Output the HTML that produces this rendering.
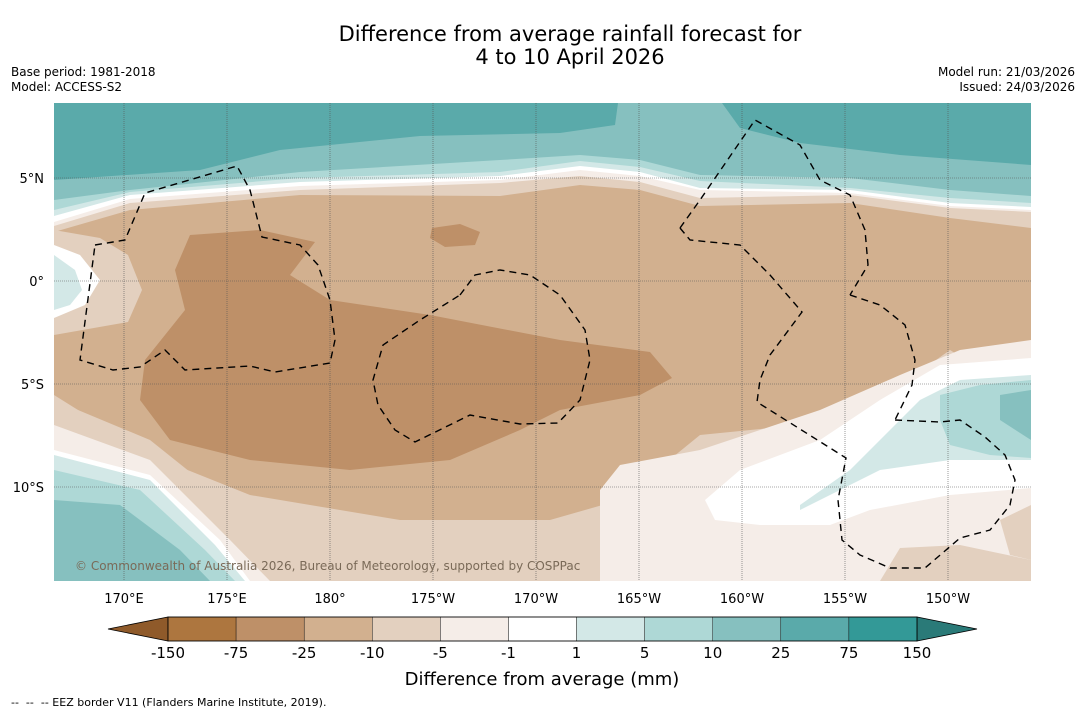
<!DOCTYPE html>
<html><head><meta charset="utf-8"><style>
body{margin:0;background:#fff;font-family:"DejaVu Sans","Liberation Sans",sans-serif;}
svg{display:block}
</style></head><body>
<svg id="chart" width="1085" height="713" viewBox="0 0 1085 713">
<rect width="1085" height="713" fill="#fff"/>
<text x="570" y="41" font-size="21" text-anchor="middle">Difference from average rainfall forecast for</text>
<text x="570" y="64" font-size="21" text-anchor="middle">4 to 10 April 2026</text>
<text x="11" y="76" font-size="12">Base period: 1981-2018</text>
<text x="11" y="91" font-size="12">Model: ACCESS-S2</text>
<text x="1075" y="76" font-size="12" text-anchor="end">Model run: 21/03/2026</text>
<text x="1075" y="91" font-size="12" text-anchor="end">Issued: 24/03/2026</text>
<defs><clipPath id="mc"><rect x="54" y="103" width="977" height="478"/></clipPath></defs>
<g id="map" clip-path="url(#mc)"></g>
<g id="grid"></g>
<g id="eez" clip-path="url(#mc)"></g>
<text x="75" y="570" font-size="12" fill="#7a6a58">© Commonwealth of Australia 2026, Bureau of Meteorology, supported by COSPPac</text>
<g id="axes"></g>
<g id="cbar"></g>
<text x="542" y="685" font-size="18" text-anchor="middle">Difference from average (mm)</text>
<text x="11" y="706" font-size="11" xml:space="preserve" style="white-space:pre">--  --  -- EEZ border V11 (Flanders Marine Institute, 2019).</text>
</svg>
<script>
// axis data
const lonTicks=[170,175,180,185,190,195,200,205,210];
const lonLabels=["170°E","175°E","180°","175°W","170°W","165°W","160°W","155°W","150°W"];
const latTicks=[5,0,-5,-10];
const latLabels=["5°N","0°","5°S","10°S"];
const cbarBounds=["-150","-75","-25","-10","-5","-1","1","5","10","25","75","150"];
const cbarColors=["#ad763f","#be9068","#d2b08f","#e3d0bf","#f5ede8","#ffffff","#d3e8e7","#aed8d6","#86c0bf","#5aaaaa","#339997"];
const extLow="#8f5a2a", extHigh="#2a7a78";
const PX=(x,y)=>[170+(x-124)/20.6,(281-y)/20.6];
function poly(ci,pts){return [ci,pts.map(p=>PX(p[0],p[1]))];}
function band(ci,b){return poly(ci,[[54,103],[1031,103]].concat(b.slice().reverse()));}
const regions=[
 poly(2,[[54,103],[1031,103],[1031,400],[950,350],[880,400],[800,425],[700,435],[620,500],[550,520],[400,520],[250,495],[150,455],[54,395]]),
 band(3,[[54,232],[130,210],[300,195],[500,196],[580,185],[640,190],[700,206],[850,203],[950,218],[1031,228]]),
 poly(3,[[54,230],[100,238],[128,255],[142,290],[128,322],[54,335]]),
 band(4,[[54,226],[130,203],[300,190],[500,183],[580,176],[640,182],[700,198],[850,195],[950,208],[1031,212]]),
 band(5,[[54,222],[130,199],[300,186],[500,180],[580,170],[640,176],[700,190],[850,193],[950,206],[1031,210]]),
 band(6,[[54,216],[130,195],[300,182],[500,176],[580,166],[640,172],[700,188],[850,190],[950,203],[1031,207]]),
 band(7,[[54,210],[130,192],[300,178],[500,172],[580,161],[640,167],[700,181],[850,188],[950,198],[1031,203]]),
 band(8,[[54,200],[130,190],[300,172],[500,160],[580,155],[640,160],[700,175],[850,178],[950,190],[1031,196]]),
 poly(9,[[54,103],[618,103],[615,125],[560,133],[420,136],[280,150],[200,170],[54,180]]),
 poly(9,[[722,103],[1031,103],[1031,165],[900,155],[800,143],[740,128]]),
 poly(5,[[54,245],[80,255],[100,280],[85,305],[54,318]]),
 poly(6,[[54,255],[75,270],[82,290],[70,305],[54,310]]),
 poly(1,[[190,235],[260,230],[315,242],[290,275],[330,300],[430,315],[560,340],[650,352],[672,378],[640,395],[560,410],[520,430],[450,460],[350,470],[250,460],[170,440],[140,400],[145,360],[185,310],[175,270]]),
 poly(1,[[432,228],[460,224],[480,232],[475,245],[445,247],[430,238]]),
 poly(3,[[54,400],[150,440],[250,520],[310,581],[54,581]]),
 poly(4,[[54,425],[150,460],[230,540],[270,581],[54,581]]),
 poly(5,[[54,450],[150,475],[220,540],[250,581],[54,581]]),
 poly(6,[[54,455],[150,480],[215,545],[245,581],[54,581]]),
 poly(7,[[54,470],[140,490],[205,550],[235,581],[54,581]]),
 poly(8,[[54,500],[120,505],[180,550],[210,581],[54,581]]),
 poly(4,[[600,581],[600,490],[620,465],[700,450],[820,410],[900,375],[960,350],[1031,340],[1031,581]]),
 poly(3,[[1000,520],[1031,505],[1031,560],[1010,555]]),
 poly(3,[[880,581],[900,548],[960,545],[1031,560],[1031,581]]),
 poly(5,[[705,500],[740,470],[820,440],[880,400],[940,365],[1031,358],[1031,488],[950,495],[870,510],[830,525],[760,525],[715,520]]),
 poly(6,[[800,505],[850,470],[890,430],[920,400],[960,380],[1031,375],[1031,460],[950,460],[880,470],[840,490],[800,510]]),
 poly(7,[[940,395],[980,385],[1031,380],[1031,458],[990,455],[950,445],[940,420]]),
 poly(8,[[1000,395],[1031,390],[1031,440],[1000,420]])
];
const eezLines=[
 [[95,245],[125,240],[145,193],[237,166],[250,190],[262,237],[300,245],[318,265],[330,300],[335,340],[330,363],[275,372],[250,366],[185,370],[165,350],[140,367],[113,370],[80,360],[95,245]],
 [[460,295],[475,275],[500,270],[530,275],[560,295],[585,330],[590,360],[580,400],[558,423],[520,424],[470,415],[415,442],[395,430],[378,405],[373,380],[383,345],[420,320],[460,295]],
 [[680,228],[700,200],[755,120],[800,145],[820,180],[850,195],[865,230],[868,265],[850,295]],
 [[850,295],[880,305],[905,325],[915,360],[912,385],[895,420]],
 [[680,228],[690,240],[740,245],[770,275],[802,312],[770,355],[760,380],[757,402],[846,458],[838,500],[842,540],[860,555],[890,568],[925,568],[960,538],[990,530],[1010,505],[1015,480],[1005,455],[985,437],[960,420],[940,422],[895,420]]
];
const x=lon=>124+(lon-170)*20.6, y=lat=>281-lat*20.6;
const NS="http://www.w3.org/2000/svg";
function mk(t,a,parent){const e=document.createElementNS(NS,t);for(const k in a)e.setAttribute(k,a[k]);parent.appendChild(e);return e;}
const map=document.getElementById('map');
const bg=mk('rect',{x:54,y:103,width:977,height:478,fill:cbarColors[3]},map);


regions.forEach(r=>{
 const p=mk('polygon',{points:r[1].map(q=>x(q[0])+','+y(q[1])).join(' '),fill:cbarColors[r[0]]},map);
 
 
});
const grid=document.getElementById('grid'),axes=document.getElementById('axes');
lonTicks.forEach((t,i)=>{
 const l=mk('line',{x1:x(t),x2:x(t),y1:103,y2:581,stroke:'#555','stroke-width':0.6,'stroke-dasharray':'1 1'},grid);
 
 
 const tx=mk('text',{x:x(t),y:603,'font-size':13,'text-anchor':'middle'},axes);tx.textContent=lonLabels[i];
 
 
});
latTicks.forEach((t,i)=>{
 const l=mk('line',{x1:54,x2:1031,y1:y(t),y2:y(t),stroke:'#555','stroke-width':0.6,'stroke-dasharray':'1 1'},grid);
 
 
 const tx=mk('text',{x:44,y:y(t)+5,'font-size':13,'text-anchor':'end'},axes);tx.textContent=latLabels[i];
 
 
});
const eez=document.getElementById('eez');
eezLines.forEach(l=>{
 const p=mk('polyline',{points:l.map(q=>q.join(',')).join(' '),fill:'none',stroke:'#000','stroke-width':1.4,'stroke-dasharray':'7 5'},eez);
 
 
});
const cb=document.getElementById('cbar');
const cx0=168,cx1=917,cy=617,ch=24,sw=(cx1-cx0)/cbarColors.length;
const lo=mk('polygon',{points:`108,${cy+ch/2} ${cx0},${cy} ${cx0},${cy+ch}`,fill:extLow,stroke:'#000','stroke-width':0.8},cb);


const hi=mk('polygon',{points:`977,${cy+ch/2} ${cx1},${cy} ${cx1},${cy+ch}`,fill:extHigh,stroke:'#000','stroke-width':0.8},cb);


cbarColors.forEach((c,i)=>{
 const r=mk('rect',{x:cx0+i*sw,y:cy,width:sw,height:ch,fill:c,stroke:'#000','stroke-width':0.4},cb);
 
 
});
mk('rect',{x:cx0,y:cy,width:cx1-cx0,height:ch,fill:'none',stroke:'#000','stroke-width':0.8},cb);
cbarBounds.forEach((b,i)=>{
 const t=mk('text',{x:cx0+i*sw,y:658,'font-size':15,'text-anchor':'middle'},cb);t.textContent=b;
 
 
});
</script>
</body></html>
